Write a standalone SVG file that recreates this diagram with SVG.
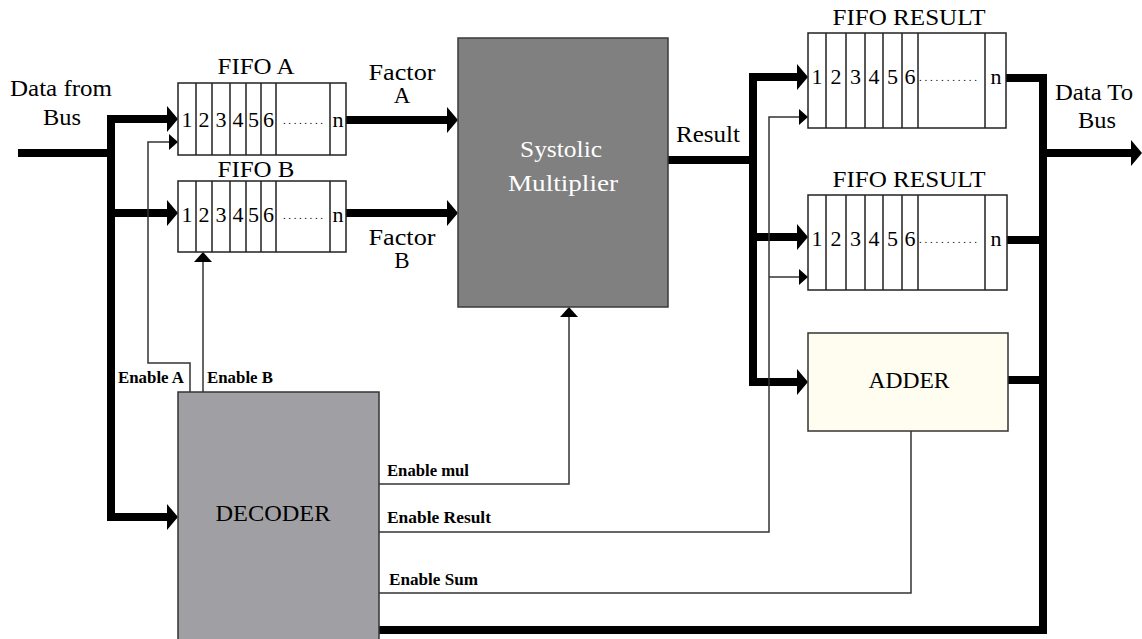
<svg xmlns="http://www.w3.org/2000/svg" width="1142" height="639" viewBox="0 0 1142 639">
<style>
  text { font-family: "Liberation Serif", "DejaVu Serif", "Noto Serif", "Times New Roman", Times, serif; fill: #000; }
  .lbl { font-size: 23px; }
  .num { font-size: 22px; text-anchor: middle; }
  .dots { font-size: 11px; }
  .en { font-size: 16px; font-weight: bold; }
  .white { fill: #fff; }
  .fifo { fill: #fff; stroke: #222; stroke-width: 1.5; }
  .div { stroke: #222; stroke-width: 1.5; }
  .thick { fill: none; stroke: #000; stroke-width: 8; stroke-linejoin: miter; }
  .thin { fill: none; stroke: #333; stroke-width: 1.5; }
</style>
<defs>
  <marker id="ah" markerUnits="userSpaceOnUse" viewBox="0 0 11 26" refX="0" refY="13" markerWidth="11" markerHeight="26" orient="auto">
    <path d="M0,0 L11,13 L0,26 Z" fill="#000"/>
  </marker>
  <marker id="at" markerUnits="userSpaceOnUse" viewBox="0 0 9 16" refX="0" refY="8" markerWidth="9" markerHeight="16" orient="auto">
    <path d="M0,0 L9,8 L0,16 Z" fill="#000"/>
  </marker>
  <marker id="au" markerUnits="userSpaceOnUse" viewBox="0 0 10 18" refX="0" refY="9" markerWidth="10" markerHeight="18" orient="auto">
    <path d="M0,0 L10,9 L0,18 Z" fill="#000"/>
  </marker>
</defs>
<rect width="1142" height="639" fill="#fff"/>

<g id="connectors">
  <path class="thick" d="M18,153 H111"/>
  <path class="thick" d="M167,119 H111 V517 H167" marker-end="url(#ah)"/>
  <path class="thick" d="M111,119 H167" marker-end="url(#ah)"/>
  <path class="thick" d="M111,213 H167" marker-end="url(#ah)"/>
  <path class="thick" d="M346,120 H447" marker-end="url(#ah)"/>
  <path class="thick" d="M346,213 H447" marker-end="url(#ah)"/>
  <path class="thick" d="M668,160 H753"/>
  <path class="thick" d="M797,77 H753 V382 H797" marker-end="url(#ah)"/>
  <path class="thick" d="M753,77 H797" marker-end="url(#ah)"/>
  <path class="thick" d="M753,237 H797" marker-end="url(#ah)"/>
  <path class="thick" d="M1006,78 H1043 V630 H379"/>
  <path class="thick" d="M1007,240 H1043"/>
  <path class="thick" d="M1008,380 H1043"/>
  <path class="thick" d="M1043,153 H1131" marker-end="url(#ah)"/>
  <path class="thin" d="M190,392 V363 H148 V142 H169" marker-end="url(#at)"/>
  <path class="thin" d="M203,392 V262" marker-end="url(#au)"/>
  <path class="thin" d="M379,484 H569 V317" marker-end="url(#au)"/>
  <path class="thin" d="M379,532 H769 V117 H799" marker-end="url(#at)"/>
  <path class="thin" d="M769,277 H799" marker-end="url(#at)"/>
  <path class="thin" d="M379,593 H911 V431"/>
</g>

<g id="labels">
  <text class="lbl" x="61" y="96" text-anchor="middle" textLength="102" lengthAdjust="spacingAndGlyphs">Data from</text>
  <text class="lbl" x="62" y="125" text-anchor="middle" textLength="38" lengthAdjust="spacingAndGlyphs">Bus</text>
  <text class="lbl" x="402" y="80" text-anchor="middle" textLength="67" lengthAdjust="spacingAndGlyphs">Factor</text>
  <text class="lbl" x="402" y="103" text-anchor="middle">A</text>
  <text class="lbl" x="402" y="245" text-anchor="middle" textLength="67" lengthAdjust="spacingAndGlyphs">Factor</text>
  <text class="lbl" x="402" y="268" text-anchor="middle">B</text>
  <text class="lbl" x="708" y="142" text-anchor="middle" textLength="64" lengthAdjust="spacingAndGlyphs">Result</text>
  <text class="lbl" x="1094" y="100" text-anchor="middle" textLength="78" lengthAdjust="spacingAndGlyphs">Data To</text>
  <text class="lbl" x="1097" y="128" text-anchor="middle" textLength="38" lengthAdjust="spacingAndGlyphs">Bus</text>
  <text class="en" x="118" y="383" textLength="66" lengthAdjust="spacingAndGlyphs">Enable A</text>
  <text class="en" x="207" y="383" textLength="66" lengthAdjust="spacingAndGlyphs">Enable B</text>
  <text class="en" x="387" y="476" textLength="82" lengthAdjust="spacingAndGlyphs">Enable mul</text>
  <text class="en" x="387" y="523" textLength="104" lengthAdjust="spacingAndGlyphs">Enable Result</text>
  <text class="en" x="389" y="585" textLength="89" lengthAdjust="spacingAndGlyphs">Enable Sum</text>
</g>

<g id="fifo-a">
  <text class="lbl" x="256" y="74" text-anchor="middle" textLength="77" lengthAdjust="spacingAndGlyphs">FIFO A</text>
  <rect class="fifo" x="178" y="83" width="168" height="72"/>
  <path class="div" d="M196,83 V155 M212,83 V155 M230,83 V155 M246,83 V155 M261,83 V155 M276,83 V155 M330,83 V155"/>
  <text class="num" x="187" y="127">1</text>
  <text class="num" x="204" y="127">2</text>
  <text class="num" x="221" y="127">3</text>
  <text class="num" x="238" y="127">4</text>
  <text class="num" x="253.5" y="127">5</text>
  <text class="num" x="268.5" y="127">6</text>
  <text class="dots" x="283" y="124" textLength="40" lengthAdjust="spacing">........</text>
  <text class="num" x="338" y="127">n</text>
</g>

<g id="fifo-b">
  <text class="lbl" x="256" y="177" text-anchor="middle" textLength="77" lengthAdjust="spacingAndGlyphs">FIFO B</text>
  <rect class="fifo" x="178" y="181" width="168" height="71"/>
  <path class="div" d="M196,181 V252 M212,181 V252 M230,181 V252 M246,181 V252 M261,181 V252 M276,181 V252 M330,181 V252"/>
  <text class="num" x="187" y="222">1</text>
  <text class="num" x="204" y="222">2</text>
  <text class="num" x="221" y="222">3</text>
  <text class="num" x="238" y="222">4</text>
  <text class="num" x="253.5" y="222">5</text>
  <text class="num" x="268.5" y="222">6</text>
  <text class="dots" x="283" y="219" textLength="40" lengthAdjust="spacing">........</text>
  <text class="num" x="338" y="222">n</text>
</g>

<g id="systolic-multiplier">
  <rect x="458" y="38" width="210" height="269" fill="#808080" stroke="#3a3a3a" stroke-width="1.5"/>
  <text class="lbl white" x="561" y="157" text-anchor="middle" textLength="82" lengthAdjust="spacingAndGlyphs">Systolic</text>
  <text class="lbl white" x="563" y="191" text-anchor="middle" textLength="110" lengthAdjust="spacingAndGlyphs">Multiplier</text>
</g>

<g id="fifo-result-1">
  <text class="lbl" x="909" y="25" text-anchor="middle" textLength="153" lengthAdjust="spacingAndGlyphs">FIFO RESULT</text>
  <rect class="fifo" x="808" y="33" width="198" height="95"/>
  <path class="div" d="M826,33 V128 M846,33 V128 M865,33 V128 M883,33 V128 M902,33 V128 M918,33 V128 M985,33 V128"/>
  <text class="num" x="817" y="84">1</text>
  <text class="num" x="836" y="84">2</text>
  <text class="num" x="855.5" y="84">3</text>
  <text class="num" x="874" y="84">4</text>
  <text class="num" x="892.5" y="84">5</text>
  <text class="num" x="910" y="84">6</text>
  <text class="dots" x="919" y="81" textLength="58" lengthAdjust="spacing">...........</text>
  <text class="num" x="996" y="84">n</text>
</g>

<g id="fifo-result-2">
  <text class="lbl" x="909" y="187" text-anchor="middle" textLength="153" lengthAdjust="spacingAndGlyphs">FIFO RESULT</text>
  <rect class="fifo" x="808" y="195" width="199" height="95"/>
  <path class="div" d="M826,195 V290 M846,195 V290 M865,195 V290 M883,195 V290 M902,195 V290 M918,195 V290 M985,195 V290"/>
  <text class="num" x="817" y="246">1</text>
  <text class="num" x="836" y="246">2</text>
  <text class="num" x="855.5" y="246">3</text>
  <text class="num" x="874" y="246">4</text>
  <text class="num" x="892.5" y="246">5</text>
  <text class="num" x="910" y="246">6</text>
  <text class="dots" x="919" y="243" textLength="58" lengthAdjust="spacing">...........</text>
  <text class="num" x="996" y="246">n</text>
</g>

<g id="adder">
  <rect x="808" y="333" width="200" height="98" fill="#fffcf0" stroke="#333" stroke-width="1.5"/>
  <text class="lbl" x="909" y="388" text-anchor="middle" textLength="81" lengthAdjust="spacingAndGlyphs">ADDER</text>
</g>

<g id="decoder">
  <rect x="178" y="392" width="201" height="255" fill="#a0a0a4" stroke="#333" stroke-width="1.5"/>
  <text class="lbl" x="273" y="521" text-anchor="middle" textLength="115" lengthAdjust="spacingAndGlyphs">DECODER</text>
</g>
</svg>
